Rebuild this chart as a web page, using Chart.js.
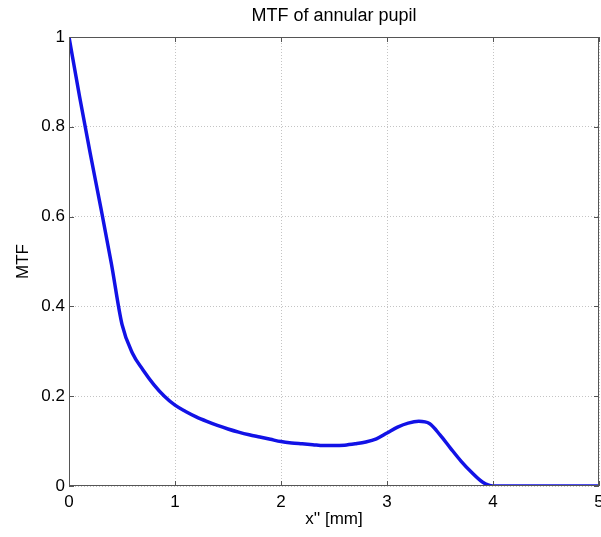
<!DOCTYPE html>
<html>
<head>
<meta charset="utf-8">
<script src="https://cdn.jsdelivr.net/npm/chart.js@4/dist/chart.umd.min.js"></script>
<style>
  html, body { margin: 0; padding: 0; background: #fff; }
  #wrap { width: 601px; height: 537px; }
</style>
</head>
<body>
<div id="wrap"><canvas id="mtfChart" width="601" height="537"></canvas></div>
<script>
// spatial frequency x'' [mm], sampled every 0.1
const xValues = [
  0.0, 0.1, 0.2, 0.3, 0.4, 0.5, 0.6, 0.7, 0.8, 0.9,
  1.0, 1.1, 1.2, 1.3, 1.4, 1.5, 1.6, 1.7, 1.8, 1.9,
  2.0, 2.1, 2.2, 2.3, 2.4, 2.5, 2.6, 2.7, 2.8, 2.9,
  3.0, 3.1, 3.2, 3.3, 3.4, 3.5, 3.6, 3.7, 3.8, 3.9,
  4.0, 4.1, 4.2, 4.3, 4.4, 4.5, 4.6, 4.7, 4.8, 4.9, 5.0
];
// MTF
const mtfValues = [
  1.0, 0.867, 0.741, 0.620, 0.495, 0.360, 0.295, 0.258, 0.226, 0.200,
  0.180, 0.166, 0.154, 0.144, 0.135, 0.127, 0.120, 0.114, 0.109, 0.104,
  0.099, 0.096, 0.094, 0.092, 0.090, 0.090, 0.091, 0.094, 0.098, 0.105,
  0.118, 0.131, 0.140, 0.144, 0.139, 0.114, 0.084, 0.055, 0.030, 0.009,
  0.0, 0.0, 0.0, 0.0, 0.0, 0.0, 0.0, 0.0, 0.0, 0.0, 0.0
];
const xTicks = [0, 1, 2, 3, 4, 5];
const yTicks = [0, 0.2, 0.4, 0.6, 0.8, 1];
const chartTitle = "MTF of annular pupil";

const FONT = "'Liberation Sans', Arial, Helvetica, sans-serif";

// MATLAB style box with inward ticks, title centred over the axes
const boxPlugin = {
  id: "box",
  afterDraw(chart) {
    const { ctx, chartArea: a, scales } = chart;
    const len = 5;
    ctx.save();
    ctx.strokeStyle = "#555";
    ctx.lineWidth = 1;
    ctx.strokeRect(a.left + 0.5, a.top + 0.5, a.right - a.left - 1, a.bottom - a.top - 1);
    ctx.beginPath();
    xTicks.forEach((v) => {
      const px = Math.round(scales.x.getPixelForValue(v)) + 0.5;
      ctx.moveTo(px, a.bottom);
      ctx.lineTo(px, a.bottom - len);
      ctx.moveTo(px, a.top);
      ctx.lineTo(px, a.top + len);
    });
    yTicks.forEach((v) => {
      const py = Math.round(scales.y.getPixelForValue(v)) + 0.5;
      ctx.moveTo(a.left, py);
      ctx.lineTo(a.left + len, py);
      ctx.moveTo(a.right, py);
      ctx.lineTo(a.right - len, py);
    });
    ctx.stroke();

    ctx.fillStyle = "#000";
    ctx.font = "18px " + FONT;
    ctx.textAlign = "center";
    ctx.textBaseline = "alphabetic";
    ctx.fillText(chartTitle, (a.left + a.right) / 2, 21);
    ctx.restore();
  },
};

new Chart(document.getElementById("mtfChart"), {
  type: "line",
  data: {
    datasets: [
      {
        label: "MTF",
        data: xValues.map((x, i) => ({ x, y: mtfValues[i] })),
        borderColor: "#1212e6",
        borderWidth: 3.5,
        pointRadius: 0,
        cubicInterpolationMode: "monotone",
        fill: false,
      },
    ],
  },
  options: {
    responsive: false,
    animation: false,
    layout: { padding: { left: 0, right: 2, top: 37, bottom: 0 } },
    plugins: {
      legend: { display: false },
      tooltip: { enabled: false },
      title: { display: false },
    },
    scales: {
      x: {
        type: "linear",
        min: 0,
        max: 5,
        afterFit: (s) => {
          s.height = 51;
          s.paddingLeft = 0;
          s.paddingRight = 0;
        },
        afterBuildTicks: (s) => { s.ticks = xTicks.map((v) => ({ value: v })); },
        ticks: {
          color: "#000",
          padding: 6,
          maxRotation: 0,
          font: { family: FONT, size: 17 },
        },
        grid: {
          color: "#c4c4c4",
          lineWidth: 1,
          drawTicks: false,
        },
        border: { display: false, dash: [1, 2] },
        title: {
          display: true,
          text: "x'' [mm]",
          color: "#000",
          font: { family: FONT, size: 17 },
          padding: { top: 0, bottom: 7 },
        },
      },
      y: {
        min: 0,
        max: 1,
        afterFit: (s) => {
          s.width = 69;
          s.paddingTop = 0;
          s.paddingBottom = 0;
        },
        afterBuildTicks: (s) => { s.ticks = yTicks.map((v) => ({ value: v })); },
        ticks: {
          color: "#000",
          padding: 4,
          font: { family: FONT, size: 17 },
          callback: (v) => String(Math.round(v * 10) / 10),
        },
        grid: {
          color: "#c4c4c4",
          lineWidth: 1,
          drawTicks: false,
        },
        border: { display: false, dash: [1, 2] },
        title: {
          display: true,
          text: "MTF",
          color: "#000",
          font: { family: FONT, size: 17 },
          padding: { top: 13, bottom: 0 },
        },
      },
    },
  },
  plugins: [boxPlugin],
});
</script>
</body>
</html>
